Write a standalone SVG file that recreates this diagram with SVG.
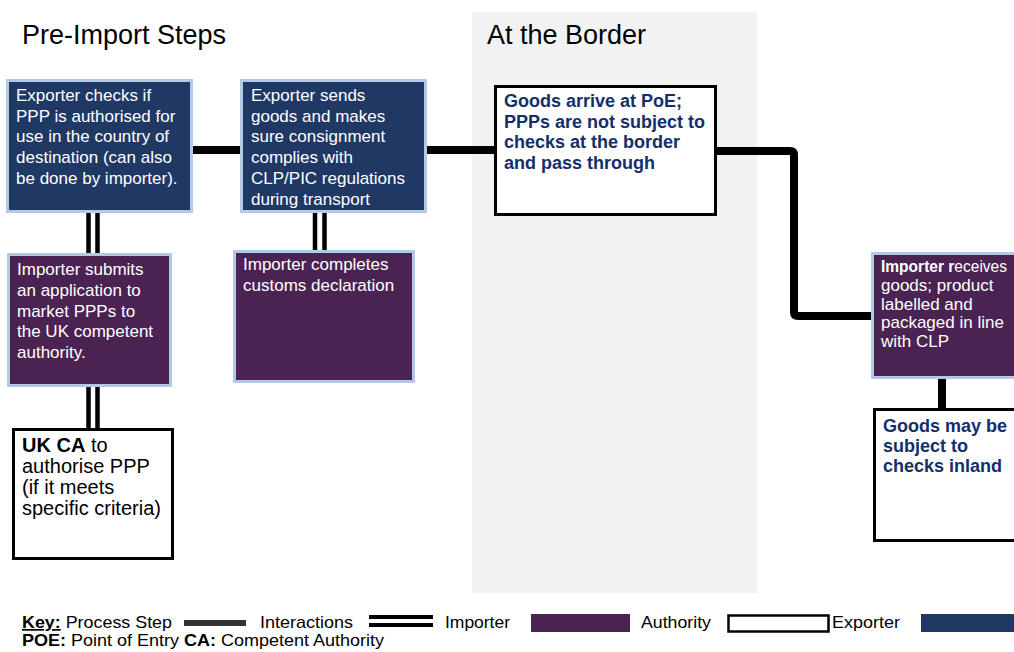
<svg xmlns="http://www.w3.org/2000/svg" width="1014" height="652" viewBox="0 0 1014 652">
<style>
  text { font-family: "Liberation Sans", Arial, sans-serif; }
  .title { font-size: 27px; fill: #000; }
  .exp { fill: #1f3864; stroke: #b4c9e6; stroke-width: 3; }
  .imp { fill: #4a2352; stroke: #b4c9e6; stroke-width: 3; }
  .auth { fill: #fff; stroke: #000; stroke-width: 3; }
  .wt { fill: #fff; font-size: 17px; }
  .nb { fill: #132f6b; font-size: 18px; font-weight: bold; }
  .bt { fill: #000; font-size: 20px; }
  .step { fill: none; stroke: #000; stroke-width: 8; stroke-linejoin: round; }
  .inter { fill: none; stroke: #000; stroke-width: 4.5; }
  .key { font-size: 17px; fill: #000; }
</style>
<rect x="0" y="0" width="1014" height="652" fill="#fff"/>
<rect x="472" y="12" width="285" height="581" fill="#f2f2f2"/>
<text class="title" x="22" y="44">Pre-Import Steps</text>
<text class="title" x="487" y="44">At the Border</text>

<g id="connectors">
  <line class="step" x1="193" y1="150" x2="240" y2="150"/>
  <line class="step" x1="427" y1="150" x2="494" y2="150"/>
  <path class="step" d="M717 151 H790 Q794 151 794 155 V312 Q794 316 798 316 H872"/>
  <line class="step" x1="942" y1="379" x2="942" y2="408"/>
  <line class="inter" x1="88.5" y1="213" x2="88.5" y2="253"/>
  <line class="inter" x1="97.5" y1="213" x2="97.5" y2="253"/>
  <line class="inter" x1="88.5" y1="387" x2="88.5" y2="428"/>
  <line class="inter" x1="97.5" y1="387" x2="97.5" y2="428"/>
  <line class="inter" x1="315" y1="213" x2="315" y2="250"/>
  <line class="inter" x1="324.5" y1="213" x2="324.5" y2="250"/>
</g>

<g id="exporter-checks">
  <rect class="exp" x="7.5" y="80.5" width="184" height="131"/>
  <text class="wt" x="16" y="101">Exporter checks if</text>
  <text class="wt" x="16" y="122">PPP is authorised for</text>
  <text class="wt" x="16" y="142">use in the country of</text>
  <text class="wt" x="16" y="163">destination (can also</text>
  <text class="wt" x="16" y="184">be done by importer).</text>
</g>

<g id="exporter-sends">
  <rect class="exp" x="241.5" y="80.5" width="184" height="131"/>
  <text class="wt" x="251" y="101">Exporter sends</text>
  <text class="wt" x="251" y="122">goods and makes</text>
  <text class="wt" x="251" y="142">sure consignment</text>
  <text class="wt" x="251" y="163">complies with</text>
  <text class="wt" x="251" y="184">CLP/PIC regulations</text>
  <text class="wt" x="251" y="205">during transport</text>
</g>

<g id="goods-arrive">
  <rect class="auth" x="495.5" y="86.5" width="220" height="128"/>
  <text class="nb" x="504" y="107">Goods arrive at PoE;</text>
  <text class="nb" x="504" y="128">PPPs are not subject to</text>
  <text class="nb" x="504" y="148">checks at the border</text>
  <text class="nb" x="504" y="169">and pass through</text>
</g>

<g id="importer-submits">
  <rect class="imp" x="8.5" y="254.5" width="162" height="131"/>
  <text class="wt" x="17" y="275">Importer submits</text>
  <text class="wt" x="17" y="296">an application to</text>
  <text class="wt" x="17" y="317">market PPPs to</text>
  <text class="wt" x="17" y="337">the UK competent</text>
  <text class="wt" x="17" y="358">authority.</text>
</g>

<g id="importer-completes">
  <rect class="imp" x="234.5" y="251.5" width="179" height="130"/>
  <text class="wt" x="243" y="270">Importer completes</text>
  <text class="wt" x="243" y="291">customs declaration</text>
</g>

<g id="uk-ca">
  <rect class="auth" x="13.5" y="429.5" width="159" height="129"/>
  <text class="bt" x="22" y="452"><tspan font-weight="bold">UK CA</tspan> to</text>
  <text class="bt" x="22" y="473">authorise PPP</text>
  <text class="bt" x="22" y="494">(if it meets</text>
  <text class="bt" x="22" y="515">specific criteria)</text>
</g>

<g id="importer-receives">
  <rect class="imp" x="872.5" y="253.5" width="150" height="124"/>
  <text class="wt" x="881" y="272" font-size="15.5" textLength="126" lengthAdjust="spacingAndGlyphs"><tspan font-weight="bold">Importer r</tspan>eceives</text>
  <text class="wt" x="881" y="291" font-size="16">goods; product</text>
  <text class="wt" x="881" y="310" font-size="16">labelled and</text>
  <text class="wt" x="881" y="328" font-size="16">packaged in line</text>
  <text class="wt" x="881" y="347" font-size="16">with CLP</text>
</g>

<g id="goods-inland">
  <rect class="auth" x="874.5" y="409.5" width="150" height="131"/>
  <text class="nb" x="883" y="432">Goods may be</text>
  <text class="nb" x="883" y="452">subject to</text>
  <text class="nb" x="883" y="472">checks inland</text>
</g>

<g id="key">
  <text class="key" x="22" y="628" textLength="150" lengthAdjust="spacingAndGlyphs"><tspan font-weight="bold" text-decoration="underline">Key:</tspan> Process Step</text>
  <rect x="184" y="620" width="62" height="6" fill="#333"/>
  <text class="key" x="260" y="628" textLength="93" lengthAdjust="spacingAndGlyphs">Interactions</text>
  <rect x="369" y="615" width="64" height="4" fill="#000"/>
  <rect x="369" y="623" width="64" height="4" fill="#000"/>
  <text class="key" x="445" y="628" textLength="65" lengthAdjust="spacingAndGlyphs">Importer</text>
  <rect x="531" y="614" width="99" height="18" fill="#4a2352"/>
  <text class="key" x="641" y="628" textLength="70" lengthAdjust="spacingAndGlyphs">Authority</text>
  <rect x="728.5" y="615.5" width="100" height="16" fill="#fff" stroke="#000" stroke-width="2.5"/>
  <text class="key" x="832" y="628" textLength="68" lengthAdjust="spacingAndGlyphs">Exporter</text>
  <rect x="921" y="614" width="93" height="18" fill="#1f3864"/>
  <text class="key" x="22" y="646" textLength="362" lengthAdjust="spacingAndGlyphs"><tspan font-weight="bold">POE:</tspan> Point of Entry <tspan font-weight="bold">CA:</tspan> Competent Authority</text>
</g>
</svg>
